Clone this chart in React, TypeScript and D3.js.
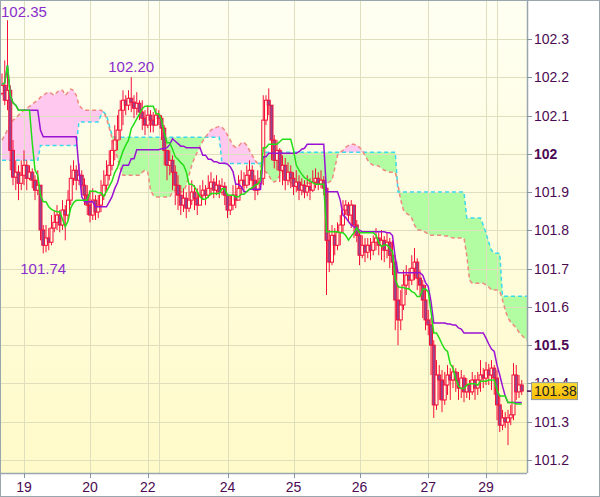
import * as React from 'react';
import * as d3 from 'd3';

// hourly candles, open = previous close
const firstOpen = 102.158;
const closes = [
  102.179, 102.140, 102.166, 102.009, 101.939, 101.952, 101.923, 101.944, 101.970, 101.936,
  101.952, 101.931, 101.905, 101.918, 101.801, 101.761, 101.780, 101.769, 101.806, 101.821,
  101.840, 101.814, 101.853, 101.840, 101.879, 101.936, 101.957, 101.931, 101.944, 101.918,
  101.892, 101.866, 101.840, 101.879, 101.848, 101.866, 101.892, 101.918, 101.944, 101.970,
  102.009, 102.036, 102.062, 102.114, 102.140, 102.127, 102.145, 102.135, 102.119, 102.132,
  102.109, 102.093, 102.075, 102.101, 102.088, 102.075, 102.101, 102.093, 102.067, 102.009,
  101.970, 101.983, 101.952, 101.918, 101.892, 101.866, 101.884, 101.858, 101.879, 101.900,
  101.884, 101.866, 101.892, 101.905, 101.892, 101.910, 101.926, 101.905, 101.918, 101.900,
  101.915, 101.892, 101.853, 101.866, 101.892, 101.879, 101.910, 101.931, 101.918, 101.944,
  101.957, 101.931, 101.905, 101.923, 101.936, 102.088, 102.140, 102.127, 102.036, 101.983,
  102.009, 101.957, 101.970, 101.931, 101.952, 101.936, 101.915, 101.926, 101.905, 101.918,
  101.900, 101.915, 101.905, 101.926, 101.936, 101.921, 101.931, 101.910, 101.774, 101.717,
  101.787, 101.761, 101.795, 101.814, 101.853, 101.866, 101.840, 101.866, 101.814, 101.787,
  101.735, 101.761, 101.743, 101.761, 101.748, 101.769, 101.780, 101.761, 101.774, 101.748,
  101.769, 101.735, 101.717, 101.618, 101.566, 101.605, 101.657, 101.683, 101.670, 101.701,
  101.717, 101.675, 101.657, 101.618, 101.566, 101.553, 101.500, 101.344, 101.422, 101.409,
  101.357, 101.396, 101.422, 101.409, 101.430, 101.409, 101.388, 101.414, 101.378, 101.396,
  101.378, 101.409, 101.388, 101.409, 101.422, 101.414, 101.435, 101.422, 101.440, 101.414,
  101.344, 101.291, 101.310, 101.299, 101.310, 101.318, 101.422, 101.378, 101.396, 101.380,
];
const highs = [
  102.210, 102.244, 102.349, 102.179, 102.036, 101.983, 101.970, 101.983, 102.009, 101.983,
  101.970, 101.962, 101.944, 101.957, 101.918, 101.814, 101.814, 101.806, 101.840, 101.853,
  101.866, 101.853, 101.879, 101.866, 101.905, 101.970, 101.983, 101.970, 101.975, 101.957,
  101.936, 101.918, 101.905, 101.910, 101.892, 101.892, 101.931, 101.957, 101.983, 102.009,
  102.036, 102.075, 102.101, 102.140, 102.166, 102.153, 102.166, 102.200, 102.153, 102.161,
  102.140, 102.140, 102.114, 102.127, 102.114, 102.109, 102.119, 102.114, 102.101, 102.075,
  102.009, 102.009, 101.996, 101.970, 101.944, 101.918, 101.910, 101.900, 101.918, 101.931,
  101.918, 101.910, 101.918, 101.931, 101.918, 101.944, 101.952, 101.936, 101.944, 101.931,
  101.936, 101.926, 101.892, 101.892, 101.918, 101.918, 101.944, 101.957, 101.952, 101.970,
  101.983, 101.970, 101.944, 101.957, 101.957, 102.153, 102.153, 102.171, 102.127, 102.049,
  102.036, 102.015, 101.996, 101.989, 101.978, 101.970, 101.952, 101.957, 101.944, 101.936,
  101.931, 101.944, 101.936, 101.957, 101.962, 101.952, 101.957, 101.942, 101.918, 101.801,
  101.814, 101.806, 101.821, 101.840, 101.879, 101.879, 101.874, 101.879, 101.866, 101.827,
  101.801, 101.787, 101.780, 101.780, 101.780, 101.787, 101.806, 101.795, 101.801, 101.785,
  101.795, 101.780, 101.774, 101.735, 101.657, 101.644, 101.696, 101.709, 101.701, 101.735,
  101.754, 101.727, 101.696, 101.670, 101.657, 101.592, 101.571, 101.513, 101.461, 101.448,
  101.435, 101.430, 101.448, 101.440, 101.448, 101.440, 101.430, 101.435, 101.422, 101.414,
  101.409, 101.430, 101.422, 101.430, 101.461, 101.440, 101.456, 101.451, 101.461, 101.448,
  101.435, 101.370, 101.331, 101.325, 101.331, 101.344, 101.453, 101.448, 101.422, 101.409,
];
const lows = [
  102.153, 102.127, 102.114, 101.957, 101.918, 101.905, 101.879, 101.905, 101.918, 101.905,
  101.931, 101.910, 101.879, 101.892, 101.774, 101.740, 101.743, 101.748, 101.761, 101.795,
  101.801, 101.795, 101.801, 101.774, 101.827, 101.866, 101.918, 101.905, 101.918, 101.892,
  101.866, 101.840, 101.821, 101.827, 101.827, 101.832, 101.848, 101.879, 101.905, 101.931,
  101.957, 101.983, 102.009, 102.036, 102.075, 102.101, 102.114, 102.109, 102.093, 102.101,
  102.088, 102.062, 102.049, 102.067, 102.056, 102.056, 102.075, 102.075, 102.036, 101.970,
  101.931, 101.944, 101.905, 101.866, 101.853, 101.840, 101.848, 101.832, 101.848, 101.866,
  101.853, 101.840, 101.866, 101.879, 101.866, 101.884, 101.892, 101.884, 101.892, 101.884,
  101.892, 101.866, 101.832, 101.840, 101.853, 101.858, 101.879, 101.892, 101.900, 101.910,
  101.918, 101.905, 101.879, 101.892, 101.905, 101.918, 102.075, 102.101, 101.983, 101.962,
  101.957, 101.926, 101.918, 101.905, 101.918, 101.910, 101.892, 101.900, 101.879, 101.892,
  101.884, 101.889, 101.879, 101.900, 101.910, 101.905, 101.910, 101.892, 101.631, 101.691,
  101.709, 101.735, 101.748, 101.761, 101.795, 101.840, 101.821, 101.806, 101.780, 101.769,
  101.709, 101.727, 101.717, 101.727, 101.722, 101.735, 101.748, 101.735, 101.722, 101.717,
  101.727, 101.701, 101.683, 101.539, 101.500, 101.539, 101.592, 101.631, 101.644, 101.657,
  101.670, 101.644, 101.631, 101.571, 101.539, 101.526, 101.422, 101.310, 101.331, 101.357,
  101.325, 101.344, 101.370, 101.357, 101.388, 101.378, 101.357, 101.362, 101.351, 101.362,
  101.357, 101.370, 101.357, 101.370, 101.378, 101.388, 101.396, 101.396, 101.383, 101.370,
  101.304, 101.273, 101.278, 101.284, 101.239, 101.291, 101.304, 101.357, 101.362, 101.370,
];

// senkou span A / B (already shifted forward), one per slot
const spanA = [
  101.983, 101.983, 101.983, 101.983, 101.983, 101.983, 101.983, 101.983, 101.983, 101.983,
  101.983, 101.983, 101.983, 101.983, 102.022, 102.022, 102.022, 102.022, 102.022, 102.022,
  102.022, 102.022, 102.022, 102.022, 102.022, 102.022, 102.022, 102.022, 102.083, 102.083,
  102.083, 102.083, 102.083, 102.083, 102.083, 102.083, 102.101, 102.109, 102.101, 102.075,
  102.049, 102.043, 102.043, 102.043, 102.043, 102.043, 102.043, 102.043, 102.043, 102.043,
  102.043, 102.043, 102.043, 102.043, 102.043, 102.043, 102.043, 102.043, 102.043, 102.043,
  102.043, 102.043, 102.043, 102.043, 102.043, 102.043, 102.043, 102.043, 102.043, 102.043,
  102.043, 102.043, 102.043, 102.043, 102.043, 102.043, 102.043, 102.043, 102.043, 102.043,
  101.975, 101.975, 101.975, 101.975, 101.975, 101.975, 101.975, 101.975, 101.975, 101.975,
  101.975, 101.975, 101.975, 101.975, 101.975, 101.989, 102.004, 102.004, 102.004, 102.004,
  102.004, 102.004, 102.004, 102.004, 102.004, 102.004, 102.004, 102.004, 102.004, 102.004,
  102.004, 102.004, 102.004, 102.004, 102.004, 102.004, 102.004, 102.004, 102.004, 102.004,
  102.004, 102.004, 102.004, 102.004, 102.004, 102.004, 102.004, 102.004, 102.004, 102.004,
  102.004, 102.004, 102.004, 102.004, 102.004, 102.004, 102.004, 102.004, 102.004, 102.004,
  102.004, 102.004, 102.004, 102.004, 101.900, 101.900, 101.900, 101.900, 101.900, 101.900,
  101.900, 101.900, 101.900, 101.900, 101.900, 101.900, 101.900, 101.900, 101.900, 101.900,
  101.900, 101.900, 101.900, 101.900, 101.900, 101.900, 101.900, 101.900, 101.900, 101.832,
  101.832, 101.832, 101.832, 101.832, 101.832, 101.814, 101.793, 101.769, 101.748, 101.740,
  101.740, 101.740, 101.628, 101.628, 101.628, 101.628, 101.628, 101.628, 101.628, 101.628,
  101.628, 101.628,
];
const spanB = [
  102.036, 102.049, 102.062, 102.075, 102.088, 102.093, 102.101, 102.109, 102.114, 102.119,
  102.124, 102.130, 102.135, 102.140, 102.148, 102.153, 102.158, 102.161, 102.158, 102.153,
  102.161, 102.166, 102.166, 102.153, 102.161, 102.169, 102.166, 102.153, 102.127, 102.119,
  102.114, 102.114, 102.114, 102.114, 102.114, 102.114, 102.114, 102.109, 102.093, 102.067,
  102.041, 102.015, 101.989, 101.962, 101.944, 101.944, 101.944, 101.944, 101.944, 101.944,
  101.944, 101.952, 101.957, 101.952, 101.905, 101.892, 101.887, 101.887, 101.887, 101.887,
  101.887, 101.887, 101.900, 101.905, 101.905, 101.900, 101.900, 101.918, 101.944, 101.970,
  101.989, 102.004, 102.020, 102.033, 102.043, 102.054, 102.062, 102.067, 102.069, 102.072,
  102.069, 102.062, 102.049, 102.036, 102.022, 102.017, 102.020, 102.028, 102.030, 102.022,
  102.009, 101.996, 101.983, 101.975, 101.968, 101.957, 101.952, 101.944, 101.931, 101.926,
  101.931, 101.944, 101.957, 101.952, 101.936, 101.923, 101.918, 101.918, 101.918, 101.918,
  101.918, 101.923, 101.923, 101.923, 101.923, 101.923, 101.923, 101.923, 101.923, 101.926,
  101.931, 101.962, 101.996, 102.004, 102.009, 102.017, 102.022, 102.025, 102.025, 102.022,
  102.017, 102.009, 101.996, 101.983, 101.975, 101.970, 101.970, 101.968, 101.962, 101.957,
  101.955, 101.952, 101.952, 101.952, 101.918, 101.879, 101.853, 101.845, 101.840, 101.832,
  101.814, 101.801, 101.801, 101.798, 101.795, 101.790, 101.787, 101.787, 101.787, 101.787,
  101.787, 101.785, 101.785, 101.782, 101.780, 101.780, 101.780, 101.780, 101.780, 101.735,
  101.670, 101.662, 101.662, 101.662, 101.662, 101.662, 101.657, 101.652, 101.644, 101.644,
  101.644, 101.641, 101.618, 101.592, 101.571, 101.560, 101.553, 101.545, 101.534, 101.526,
  101.519, 101.513,
];

const priceTicks = [101.2, 101.3, 101.4, 101.5, 101.6, 101.7, 101.8, 101.9, 102, 102.1, 102.2, 102.3];
const dayIdx = [8, 32, 53, 57, 82, 106, 130, 155, 176, 180];
const dayLabels = ['19', '20', '22', '', '24', '25', '26', '27', '29', ''];
const markIdx = [2, 47, 15];
const markText = ['102.35', '102.20', '101.74'];
const markBelow = [false, false, true];
const lastPrice = 101.38;

const W = 600;
const H = 497;
const plotR = 527;
const plotB = 473;
const font = 'Liberation Sans, Arial, sans-serif';

function midpoint(i: number, n: number) {
  const s = Math.max(0, i - n + 1);
  const hi = d3.max(highs.slice(s, i + 1)) as number;
  const lo = d3.min(lows.slice(s, i + 1)) as number;
  return (hi + lo) / 2;
}

export default function App() {
  const x = d3.scaleLinear().domain([-2 / 2.75, (plotR - 2) / 2.75]).range([0, plotR]);
  const y = d3.scaleLinear().domain([101.2, 102.3]).range([460, 39]);

  const idx = d3.range(closes.length);
  const tenkan = idx.map(i => midpoint(i, 9));
  const kijun = idx.map(i => midpoint(i, 26));

  const line = d3.line<number>().x((d, i) => x(i)).y(d => y(d));
  const cloudIdx = d3.range(spanA.length);
  const greenArea = d3.area<number>()
    .x(i => x(i))
    .y0(i => y(spanB[i]))
    .y1(i => y(Math.max(spanA[i], spanB[i])));
  const pinkArea = d3.area<number>()
    .x(i => x(i))
    .y0(i => y(spanA[i]))
    .y1(i => y(Math.max(spanA[i], spanB[i])));

  const bw = 3;
  const gridColor = '#e0dfbd';
  const axisText = '#4c0a52';
  const markColor = '#8a2ccc';
  const py0 = y(lastPrice);

  return (
    <svg width={W} height={H} style={{position: 'absolute', left: 0, top: 0, display: 'block'}}
      xmlns="http://www.w3.org/2000/svg">
      <defs>
        <linearGradient id="bg" x1="0" y1="0" x2="0" y2="1">
          <stop offset="0" stopColor="#fefff2" />
          <stop offset="1" stopColor="#fffac8" />
        </linearGradient>
        <linearGradient id="gold" x1="0" y1="0" x2="0" y2="1">
          <stop offset="0" stopColor="#ffdd33" />
          <stop offset="1" stopColor="#f5b800" />
        </linearGradient>
        <clipPath id="plot">
          <rect x={0} y={0} width={plotR} height={plotB} />
        </clipPath>
      </defs>
      <rect x={0} y={0} width={W} height={H} fill="#ffffff" />
      <rect x={0} y={0} width={plotR} height={plotB} fill="url(#bg)" />

      <g clipPath="url(#plot)">
        <path d={pinkArea(cloudIdx) || ''} fill="#ffc8ee" />
        <path d={greenArea(cloudIdx) || ''} fill="#b2fca2" />

        {priceTicks.map(t => (
          <line key={t} x1={0} x2={plotR} y1={Math.round(y(t)) + 0.5} y2={Math.round(y(t)) + 0.5}
            stroke={gridColor} strokeWidth={1} />
        ))}
        {dayIdx.map(i => (
          <line key={i} x1={Math.round(x(i)) + 0.5} x2={Math.round(x(i)) + 0.5} y1={0} y2={plotB}
            stroke={gridColor} strokeWidth={1} />
        ))}

        <path d={line(spanA) || ''} fill="none" stroke="#3cd8ec" strokeWidth={1.5} strokeDasharray="4,3" />
        <path d={line(spanB) || ''} fill="none" stroke="#f08a80" strokeWidth={1.5} strokeDasharray="4,3" />

        {closes.map((c, i) => {
          const o = i === 0 ? firstOpen : closes[i - 1];
          const hi = Math.max(highs[i], o, c);
          const lo = Math.min(lows[i], o, c);
          const cx = x(i);
          const top = y(Math.max(o, c));
          const bot = y(Math.min(o, c));
          const down = c < o;
          return (
            <g key={i}>
              <line x1={cx} x2={cx} y1={y(hi)} y2={y(lo)} stroke="#f5103c" strokeWidth={1} />
              <rect x={cx - bw / 2} y={top} width={bw} height={Math.max(1, bot - top)}
                fill={down ? '#94468e' : '#fffbe0'} stroke="#f5103c" strokeWidth={1} />
            </g>
          );
        })}

        <path d={line(kijun) || ''} fill="none" stroke="#9a12d4" strokeWidth={1.5} />
        <path d={line(tenkan) || ''} fill="none" stroke="#22dd18" strokeWidth={1.5} />
      </g>

      {markIdx.map((m, k) => {
        const v = markBelow[k] ? lows[m] : highs[m];
        const px = Math.max(1, x(m) - 23);
        const py = markBelow[k] ? y(v) + 21 : y(v) - 5;
        return (
          <text key={k} x={px} y={Math.max(17, py)} fontFamily={font} fontSize={15} fill={markColor}>
            {markText[k]}
          </text>
        );
      })}

      <line x1={plotR + 0.5} x2={plotR + 0.5} y1={0} y2={plotB} stroke="#9aa6ae" strokeWidth={1.5} />
      <line x1={0} x2={plotR} y1={plotB + 0.5} y2={plotB + 0.5} stroke="#9aa6ae" strokeWidth={1.5} />

      {priceTicks.map(t => {
        const major = Math.abs(t * 2 - Math.round(t * 2)) < 1e-6;
        return (
          <g key={t}>
            <line x1={plotR} x2={plotR + 5} y1={Math.round(y(t)) + 0.5} y2={Math.round(y(t)) + 0.5}
              stroke="#8895a0" strokeWidth={1} />
            <text x={534} y={y(t) + 5} fontFamily={font} fontSize={14}
              fontWeight={major ? 'bold' : 'normal'} fill={axisText}>
              {d3.format('')(+t.toFixed(1))}
            </text>
          </g>
        );
      })}

      {dayIdx.map((i, k) => dayLabels[k] ? (
        <g key={i}>
          <line x1={Math.round(x(i)) + 0.5} x2={Math.round(x(i)) + 0.5} y1={plotB} y2={plotB + 5}
            stroke="#8895a0" strokeWidth={1} />
          <text x={x(i)} y={492} textAnchor="middle" fontFamily={font} fontSize={14} fill={axisText}>
            {dayLabels[k]}
          </text>
        </g>
      ) : null)}

      <line x1={plotR} x2={plotR + 5} y1={py0} y2={py0} stroke="#4c0a52" strokeWidth={1.5} />
      <rect x={531.5} y={py0 - 8.5} width={46} height={17} fill="url(#gold)" stroke="#8c9aa6" strokeWidth={1} />
      <text x={534} y={py0 + 5} fontFamily={font} fontSize={14} fill="#222">
        {lastPrice.toFixed(2)}
      </text>

      <rect x={0.5} y={0.5} width={W - 1} height={H - 1} fill="none" stroke="#9aa6ae" strokeWidth={1} />
    </svg>
  );
}
